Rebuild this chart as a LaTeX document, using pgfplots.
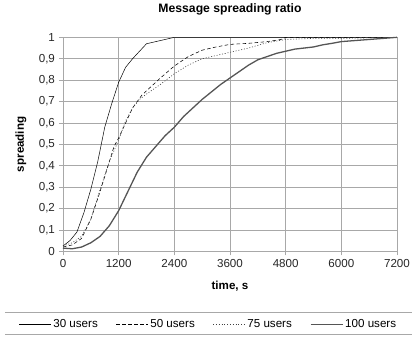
\documentclass[border=0pt]{standalone}
\usepackage{pgfplots}
\pgfplotsset{compat=1.18}
\usepackage{fontspec}
\setmainfont{Liberation Sans}

\definecolor{gridgray}{HTML}{A8A8A8}
\definecolor{thickgray}{HTML}{555555}

\newcommand{\chartfont}{\fontsize{11.6bp}{13bp}\selectfont}

\begin{document}
\chartfont
\begin{tikzpicture}
\begin{axis}[
  at={(0,0)}, anchor=south west,
  scale only axis,
  width=334bp, height=214bp,
  xmin=0, xmax=7200, ymin=0, ymax=1,
  xtick={0,1200,...,7200},
  ytick={0,0.1,...,1.0},
  /pgf/number format/assume math mode=true,
  /pgf/number format/use comma,
  /pgf/number format/fixed,
  /pgf/number format/precision=1,
  scaled x ticks=false,
  xticklabel style={/pgf/number format/1000 sep={}},
  grid=major,
  major grid style={gridgray, line width=0.6pt},
  axis line style={gridgray, line width=0.6pt},
  tick style={gridgray, line width=0.6pt},
  tick align=outside,
  major tick length=4bp,
  xtick pos=bottom, ytick pos=left,
  ticklabel style={font=\chartfont, text=black!85},
  title={\bfseries Message spreading ratio},
  title style={at={(0.5,1)}, anchor=south, yshift=12bp, font=\fontsize{12.2bp}{14bp}\selectfont},
  xlabel={\bfseries time, s},
  ylabel={\bfseries spreading},
  xlabel style={at={(0.5,0)}, anchor=center, yshift=-35bp, font=\chartfont},
  ylabel style={at={(0,0.5)}, anchor=center, rotate=0, font=\chartfont, yshift=42bp},
  legend columns=4,
  legend style={at={(0.4356,-0.341)}, anchor=center, draw=none, fill=none,
    font=\chartfont,
    /tikz/every even column/.append style={column sep=16bp}},
  legend image code/.code={\draw[#1] (0bp,0bp) -- (32bp,0bp);},
  clip=false,
]
% 30 users
\addplot[black, line width=0.5pt] coordinates {
 (0,0.025) (150,0.05) (300,0.09) (450,0.18) (600,0.29) (750,0.42)
 (900,0.58) (1050,0.69) (1200,0.79) (1350,0.86) (1500,0.90)
 (1800,0.97) (2400,1.0) (7200,1.0)
};
\addlegendentry{30 users}
% 50 users
\addplot[black, line width=0.55pt, dash pattern=on 3.5bp off 2.5bp] coordinates {
 (0,0.02) (200,0.03) (400,0.06) (600,0.15) (800,0.28) (1000,0.42)
 (1100,0.49) (1200,0.53) (1350,0.60) (1500,0.67) (1700,0.73)
 (1900,0.77) (2100,0.81) (2400,0.866) (2700,0.91) (3000,0.94)
 (3300,0.955) (3600,0.967) (4000,0.972) (4400,0.98) (4700,0.99)
 (4800,1.0) (7200,1.0)
};
\addlegendentry{50 users}
% 75 users
\addplot[black!75, line width=0.6pt, dash pattern=on 1bp off 1.8bp] coordinates {
 (0,0.025) (200,0.04) (400,0.07) (600,0.15) (800,0.29) (1000,0.42)
 (1200,0.52) (1350,0.61) (1500,0.67) (1650,0.71) (1800,0.735)
 (2100,0.78) (2400,0.83) (2700,0.87) (3000,0.90) (3300,0.915)
 (3600,0.93) (4000,0.95) (4400,0.975) (4800,0.99) (5400,0.995)
 (6000,0.995) (7200,1.0)
};
\addlegendentry{75 users}
% 100 users
\addplot[thickgray, line width=1.3pt] coordinates {
 (0,0.015) (200,0.012) (400,0.02) (600,0.04) (800,0.07) (1000,0.12)
 (1200,0.19) (1400,0.28) (1600,0.37) (1800,0.44) (2000,0.49)
 (2200,0.54) (2400,0.58) (2600,0.63) (2800,0.67) (3000,0.71)
 (3200,0.745) (3400,0.78) (3600,0.81) (3800,0.84) (4000,0.87)
 (4200,0.895) (4400,0.91) (4600,0.925) (4800,0.935) (5000,0.945)
 (5200,0.95) (5400,0.955) (5600,0.965) (5800,0.972) (6000,0.98)
 (6300,0.985) (6600,0.99) (6900,0.995) (7200,1.0)
};
\addlegendentry{100 users}
\end{axis}
% rules above and below the legend
\draw[gridgray, line width=1pt] (-58bp,-61bp) -- (349bp,-61bp);
\draw[gridgray, line width=1pt] (-58bp,-83bp) -- (349bp,-83bp);
\path[use as bounding box] (-63bp,-85bp) rectangle (354bp,247bp);
\end{tikzpicture}
\end{document}
